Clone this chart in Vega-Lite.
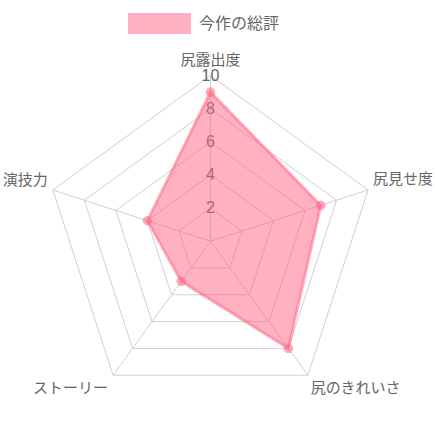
{
  "$schema": "https://vega.github.io/schema/vega-lite/v6.json",
  "width": 435,
  "height": 435,
  "autosize": {"type": "none"},
  "padding": 0,
  "datasets": {
    "scores": [
      {"axis": "尻露出度", "order": 0, "score": 9},
      {"axis": "尻見せ度", "order": 1, "score": 7},
      {"axis": "尻のきれいさ", "order": 2, "score": 8},
      {"axis": "ストーリー", "order": 3, "score": 3},
      {"axis": "演技力", "order": 4, "score": 4}
    ],
    "grid": [
      {"ring": 0, "order": 0}, {"ring": 0, "order": 1}, {"ring": 0, "order": 2}, {"ring": 0, "order": 3}, {"ring": 0, "order": 4},
      {"ring": 2, "order": 0}, {"ring": 2, "order": 1}, {"ring": 2, "order": 2}, {"ring": 2, "order": 3}, {"ring": 2, "order": 4},
      {"ring": 4, "order": 0}, {"ring": 4, "order": 1}, {"ring": 4, "order": 2}, {"ring": 4, "order": 3}, {"ring": 4, "order": 4},
      {"ring": 6, "order": 0}, {"ring": 6, "order": 1}, {"ring": 6, "order": 2}, {"ring": 6, "order": 3}, {"ring": 6, "order": 4},
      {"ring": 8, "order": 0}, {"ring": 8, "order": 1}, {"ring": 8, "order": 2}, {"ring": 8, "order": 3}, {"ring": 8, "order": 4},
      {"ring": 10, "order": 0}, {"ring": 10, "order": 1}, {"ring": 10, "order": 2}, {"ring": 10, "order": 3}, {"ring": 10, "order": 4}
    ]
  },
  "layer": [
    {
      "data": {"name": "grid"},
      "transform": [
        {"filter": "datum.ring > 0"},
        {"calculate": "datum.ring * sin(2 * PI * datum.order / 5)", "as": "gx"},
        {"calculate": "datum.ring * cos(2 * PI * datum.order / 5)", "as": "gy"}
      ],
      "mark": {"type": "line", "interpolate": "linear-closed", "stroke": "#d0d0d0", "strokeWidth": 1},
      "encoding": {
        "x": {"field": "gx", "type": "quantitative", "scale": {"domain": [-12.7, 13.55], "nice": false, "zero": false}, "axis": null},
        "y": {"field": "gy", "type": "quantitative", "scale": {"domain": [-11.7, 14.56], "nice": false, "zero": false}, "axis": null},
        "detail": {"field": "ring", "type": "nominal"},
        "order": {"field": "order", "type": "quantitative"}
      }
    },
    {
      "data": {"name": "grid"},
      "transform": [
        {"calculate": "datum.ring * sin(2 * PI * datum.order / 5)", "as": "gx"},
        {"calculate": "datum.ring * cos(2 * PI * datum.order / 5)", "as": "gy"}
      ],
      "mark": {"type": "line", "stroke": "#d0d0d0", "strokeWidth": 1},
      "encoding": {
        "x": {"field": "gx", "type": "quantitative"},
        "y": {"field": "gy", "type": "quantitative"},
        "detail": {"field": "order", "type": "nominal"},
        "order": {"field": "ring", "type": "quantitative"}
      }
    },
    {
      "data": {"name": "grid"},
      "transform": [
        {"filter": "datum.ring > 0 && datum.order == 0"},
        {"calculate": "datum.ring * sin(2 * PI * datum.order / 5)", "as": "gx"},
        {"calculate": "datum.ring * cos(2 * PI * datum.order / 5)", "as": "gy"}
      ],
      "mark": {"type": "text", "align": "center", "baseline": "middle", "fontSize": 16, "color": "#666", "font": "Liberation Sans, 'Noto Sans CJK JP'"},
      "encoding": {
        "x": {"field": "gx", "type": "quantitative"},
        "y": {"field": "gy", "type": "quantitative"},
        "text": {"field": "ring", "type": "quantitative"}
      }
    },
    {
      "data": {"name": "scores"},
      "transform": [
        {"calculate": "datum.score * sin(2 * PI * datum.order / 5)", "as": "px"},
        {"calculate": "datum.score * cos(2 * PI * datum.order / 5)", "as": "py"}
      ],
      "mark": {"type": "line", "interpolate": "linear-closed", "fill": "#ff6384", "fillOpacity": 0.5, "strokeOpacity": 0.5, "strokeWidth": 3},
      "encoding": {
        "x": {"field": "px", "type": "quantitative"},
        "y": {"field": "py", "type": "quantitative"},
        "order": {"field": "order", "type": "quantitative"},
        "color": {
          "datum": "今作の総評",
          "type": "nominal",
          "scale": {"range": ["#ff6384"]},
          "legend": {
            "title": null,
            "orient": "none",
            "legendX": 128,
            "legendY": -8,
            "padding": 0,
            "labelFontSize": 16,
            "labelColor": "#666",
            "labelFont": "Liberation Sans, 'Noto Sans CJK JP'",
            "labelOffset": 8,
            "symbolType": "M-1,-0.3L1,-0.3L1,0.3L-1,0.3Z",
            "symbolSize": 3600,
            "symbolOpacity": 0.5,
            "symbolStrokeWidth": 3,
            "encode": {
              "symbols": {
                "update": {
                  "opacity": {"value": 0.5},
                  "strokeWidth": {"value": 3}
                }
              }
            }
          }
        }
      }
    },
    {
      "data": {"name": "scores"},
      "transform": [
        {"calculate": "datum.score * sin(2 * PI * datum.order / 5)", "as": "px"},
        {"calculate": "datum.score * cos(2 * PI * datum.order / 5)", "as": "py"}
      ],
      "mark": {"type": "circle", "size": 75, "fill": "#ff6384", "opacity": 0.55, "stroke": "#ff6384", "strokeWidth": 1},
      "encoding": {
        "x": {"field": "px", "type": "quantitative"},
        "y": {"field": "py", "type": "quantitative"}
      }
    },
    {
      "data": {"name": "scores"},
      "transform": [
        {"filter": "datum.order == 0"},
        {"calculate": "10 * sin(2 * PI * datum.order / 5)", "as": "lx"},
        {"calculate": "10 * cos(2 * PI * datum.order / 5)", "as": "ly"}
      ],
      "mark": {"type": "text", "align": "center", "baseline": "middle", "dy": -16, "fontSize": 15, "color": "#666", "font": "Liberation Sans, 'Noto Sans CJK JP'"},
      "encoding": {
        "x": {"field": "lx", "type": "quantitative"},
        "y": {"field": "ly", "type": "quantitative"},
        "text": {"field": "axis", "type": "nominal"}
      }
    },
    {
      "data": {"name": "scores"},
      "transform": [
        {"filter": "datum.order == 1"},
        {"calculate": "10 * sin(2 * PI * datum.order / 5)", "as": "lx"},
        {"calculate": "10 * cos(2 * PI * datum.order / 5)", "as": "ly"}
      ],
      "mark": {"type": "text", "align": "left", "baseline": "middle", "dx": 5, "dy": -11, "fontSize": 15, "color": "#666", "font": "Liberation Sans, 'Noto Sans CJK JP'"},
      "encoding": {
        "x": {"field": "lx", "type": "quantitative"},
        "y": {"field": "ly", "type": "quantitative"},
        "text": {"field": "axis", "type": "nominal"}
      }
    },
    {
      "data": {"name": "scores"},
      "transform": [
        {"filter": "datum.order == 2"},
        {"calculate": "10 * sin(2 * PI * datum.order / 5)", "as": "lx"},
        {"calculate": "10 * cos(2 * PI * datum.order / 5)", "as": "ly"}
      ],
      "mark": {"type": "text", "align": "left", "baseline": "middle", "dx": 3, "dy": 13, "fontSize": 15, "color": "#666", "font": "Liberation Sans, 'Noto Sans CJK JP'"},
      "encoding": {
        "x": {"field": "lx", "type": "quantitative"},
        "y": {"field": "ly", "type": "quantitative"},
        "text": {"field": "axis", "type": "nominal"}
      }
    },
    {
      "data": {"name": "scores"},
      "transform": [
        {"filter": "datum.order == 3"},
        {"calculate": "10 * sin(2 * PI * datum.order / 5)", "as": "lx"},
        {"calculate": "10 * cos(2 * PI * datum.order / 5)", "as": "ly"}
      ],
      "mark": {"type": "text", "align": "right", "baseline": "middle", "dx": -5, "dy": 13, "fontSize": 15, "color": "#666", "font": "Liberation Sans, 'Noto Sans CJK JP'"},
      "encoding": {
        "x": {"field": "lx", "type": "quantitative"},
        "y": {"field": "ly", "type": "quantitative"},
        "text": {"field": "axis", "type": "nominal"}
      }
    },
    {
      "data": {"name": "scores"},
      "transform": [
        {"filter": "datum.order == 4"},
        {"calculate": "10 * sin(2 * PI * datum.order / 5)", "as": "lx"},
        {"calculate": "10 * cos(2 * PI * datum.order / 5)", "as": "ly"}
      ],
      "mark": {"type": "text", "align": "right", "baseline": "middle", "dx": -5, "dy": -10, "fontSize": 15, "color": "#666", "font": "Liberation Sans, 'Noto Sans CJK JP'"},
      "encoding": {
        "x": {"field": "lx", "type": "quantitative"},
        "y": {"field": "ly", "type": "quantitative"},
        "text": {"field": "axis", "type": "nominal"}
      }
    }
  ],
  "config": {"view": {"stroke": null}}
}
